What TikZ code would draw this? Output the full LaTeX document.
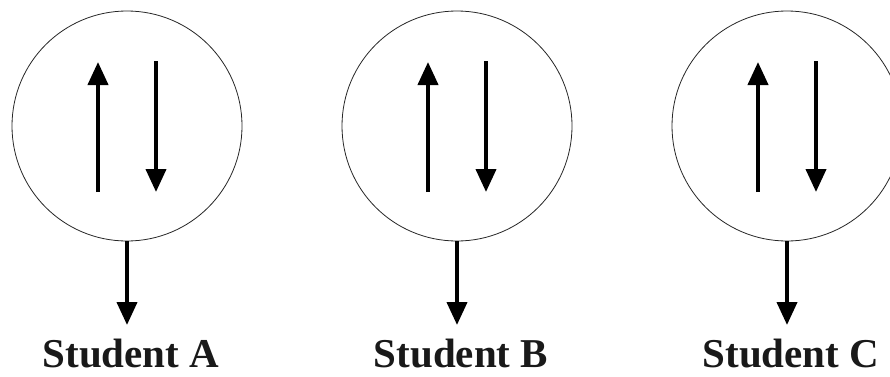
\documentclass[tikz,border=0pt]{standalone}
\usepackage{fontspec}
\setmainfont{Liberation Serif}
\usetikzlibrary{arrows.meta,calc}
\begin{document}
\begin{tikzpicture}[x=1pt,y=1pt,
  ring/.style={circle,draw=black!85,line width=0.8pt,minimum size=230pt,inner sep=0pt},
  spin/.style={line width=4pt,-{Triangle[width=20pt,length=23pt]}},
  lbl/.style={anchor=base,font=\fontsize{41}{48}\selectfont\bfseries,inner sep=0pt,text depth=0pt,text=black!90}]
\clip (0,0) rectangle (890,376);
\useasboundingbox (0,0) rectangle (890,376);
\foreach \n/\cx/\t in {a/127/A,b/457/B,c/787/C}{
  \node[ring] (c\n) at (\cx,250) {};
  \coordinate (u\n1) at ($(c\n.center)+(-29,-66)$);
  \coordinate (u\n2) at ($(c\n.center)+(-29,64)$);
  \coordinate (d\n1) at ($(c\n.center)+(29,65)$);
  \coordinate (d\n2) at ($(c\n.center)+(29,-66)$);
  \draw[spin] (u\n1) -- (u\n2);
  \draw[spin] (d\n1) -- (d\n2);
  \coordinate (e\n) at (\cx,51);
  \draw[spin] (c\n.south) -- (e\n);
  \node[lbl] (l\n) at (\cx+4,8.5) {Student \t};
}
\end{tikzpicture}
\end{document}
